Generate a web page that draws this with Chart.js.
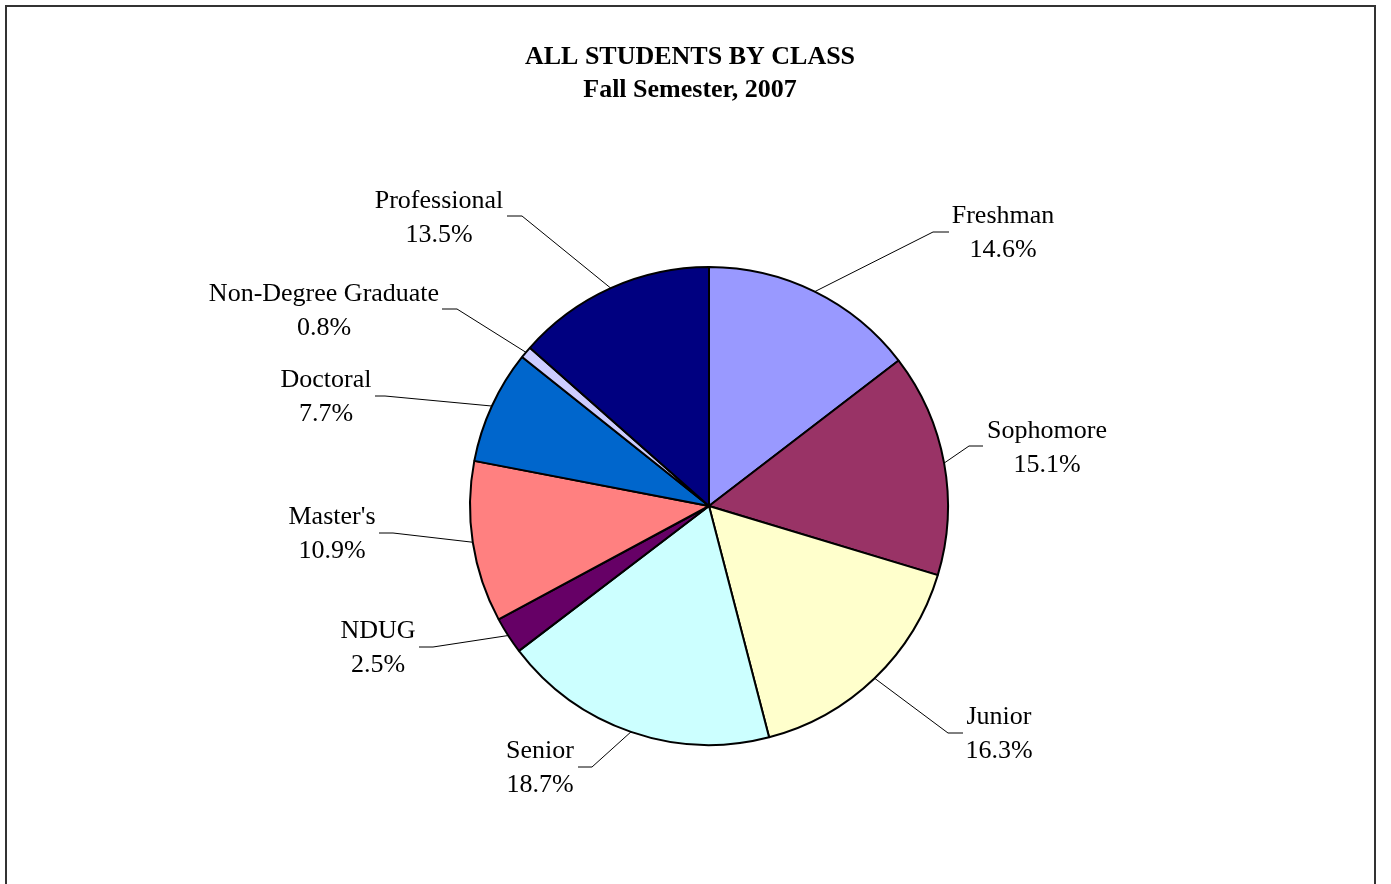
<!DOCTYPE html>
<html>
<head>
<meta charset="utf-8">
<script src="https://cdn.jsdelivr.net/npm/chart.js@4"></script>
<style>
  html, body { margin: 0; padding: 0; background: #fff; }
  #wrap { position: relative; width: 1391px; height: 884px; }
</style>
</head>
<body>
<div id="wrap"><canvas id="pie"></canvas></div>
<script>
// data
const titleLines = ["ALL STUDENTS BY CLASS", "Fall Semester, 2007"];
const classNames = [
  "Freshman", "Sophomore", "Junior", "Senior", "NDUG",
  "Master's", "Doctoral", "Non-Degree Graduate", "Professional"
];
const sharePct = [14.6, 15.1, 16.3, 18.7, 2.5, 10.9, 7.7, 0.8, 13.5];
const sliceColors = [
  "#9999FF", "#993366", "#FFFFCC", "#CCFFFF", "#660066",
  "#FF8080", "#0066CC", "#CCCCFF", "#000080"
];

// where each label sits: text centre, elbow point, end of the short tick
const labelSpots = [
  { tx: 1003, ty: 216, ex: 933, ey: 232, hx: 949 },
  { tx: 1047, ty: 431, ex: 969, ey: 446, hx: 983 },
  { tx: 999, ty: 717, ex: 948, ey: 733, hx: 963 },
  { tx: 540, ty: 751, ex: 592, ey: 767, hx: 578 },
  { tx: 378, ty: 631, ex: 433, ey: 647, hx: 419 },
  { tx: 332, ty: 517, ex: 393, ey: 533, hx: 379 },
  { tx: 326, ty: 380, ex: 385, ey: 396, hx: 375 },
  { tx: 324, ty: 294, ex: 457, ey: 309, hx: 442 },
  { tx: 439, ty: 201, ex: 522, ey: 216, hx: 507 }
];

const serif = "'Liberation Serif', 'Times New Roman', serif";

const framePlugin = {
  id: "frame",
  beforeDraw(chart) {
    const ctx = chart.ctx;
    ctx.save();
    ctx.fillStyle = "#fff";
    ctx.fillRect(0, 0, chart.width, chart.height);
    ctx.strokeStyle = "#333";
    ctx.lineWidth = 2;
    ctx.strokeRect(6, 6, 1369, 920);
    ctx.fillStyle = "#000";
    ctx.font = "bold 26px " + serif;
    ctx.textAlign = "center";
    ctx.textBaseline = "middle";
    titleLines.forEach((t, i) => ctx.fillText(t, 690, 57 + i * 33));
    ctx.restore();
  }
};

const labelPlugin = {
  id: "sliceLabels",
  afterDatasetsDraw(chart) {
    const ctx = chart.ctx;
    const arcs = chart.getDatasetMeta(0).data;
    ctx.save();
    ctx.strokeStyle = "#000";
    ctx.lineWidth = 1;
    ctx.fillStyle = "#000";
    ctx.font = "26px " + serif;
    ctx.textAlign = "center";
    ctx.textBaseline = "middle";
    arcs.forEach((arc, i) => {
      const spot = labelSpots[i];
      const mid = (arc.startAngle + arc.endAngle) / 2;
      const r = arc.outerRadius;
      const sx = arc.x + Math.cos(mid) * r;
      const sy = arc.y + Math.sin(mid) * r;
      ctx.beginPath();
      ctx.moveTo(sx, sy);
      ctx.lineTo(spot.ex, spot.ey);
      ctx.lineTo(spot.hx, spot.ey);
      ctx.stroke();
      ctx.fillText(classNames[i], spot.tx, spot.ty);
      ctx.fillText(sharePct[i].toFixed(1) + "%", spot.tx, spot.ty + 34);
    });
    ctx.restore();
  }
};

new Chart(document.getElementById("pie").getContext("2d"), {
  type: "pie",
  data: {
    labels: classNames,
    datasets: [
      {
        data: sharePct,
        backgroundColor: sliceColors,
        borderColor: "#000",
        borderWidth: 2
      }
    ]
  },
  options: {
    responsive: true,
    maintainAspectRatio: false,
    animation: false,
    layout: {
      padding: { left: 469, right: 442, top: 266, bottom: 138 }
    },
    plugins: {
      legend: { display: false },
      tooltip: { enabled: false },
      title: { display: false }
    }
  },
  plugins: [framePlugin, labelPlugin]
});
</script>
</body>
</html>
